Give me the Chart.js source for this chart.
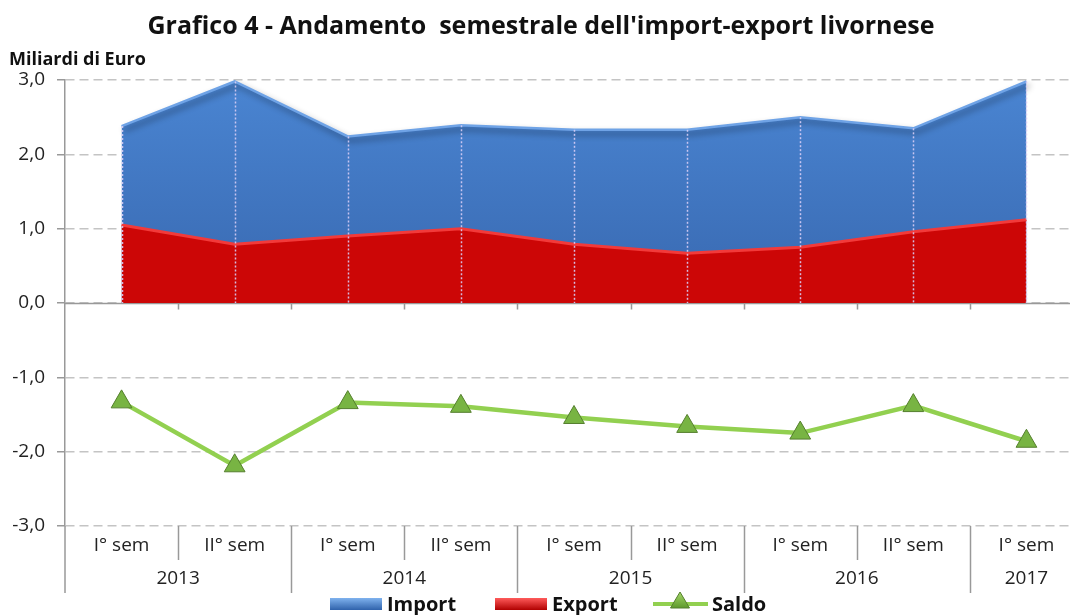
<!DOCTYPE html>
<html>
<head>
<meta charset="utf-8">
<script src="https://cdn.jsdelivr.net/npm/chart.js@4/dist/chart.umd.min.js"></script>
<style>
  body { margin: 0; background: #fff; overflow: hidden; }
  #wrap { position: absolute; left: 0; top: 0; width: 1090px; height: 615px; }
</style>
</head>
<body>
<div id="wrap"><canvas id="grafico" width="1090" height="615"></canvas></div>
<script>
// Dati (miliardi di euro)
const semestri = ['I° sem', 'II° sem', 'I° sem', 'II° sem', 'I° sem', 'II° sem', 'I° sem', 'II° sem', 'I° sem'];
const anni = ['2013', '2014', '2015', '2016', '2017'];
const semPerAnno = [2, 2, 2, 2, 1];
const importVal = [2.38, 2.98, 2.24, 2.39, 2.33, 2.33, 2.50, 2.35, 2.98];
const exportVal = [1.05, 0.79, 0.90, 1.00, 0.79, 0.67, 0.75, 0.96, 1.12];
const saldoVal = [-1.33, -2.19, -1.34, -1.39, -1.54, -1.66, -1.75, -1.38, -1.86];
const yTicks = [-3, -2, -1, 0, 1, 2, 3];

const FONT = '"Open Sans", Lato, sans-serif';

function fmt(v) {
    return v.toFixed(1).replace('.', ',');
}

// gradiente verticale tra due valori dell'asse y
function vGrad(chart, c1, c2) {
    const area = chart.chartArea;
    if (!area) return c1;
    const y = chart.scales.y;
    const g = chart.ctx.createLinearGradient(0, y.getPixelForValue(3), 0, y.getPixelForValue(0));
    g.addColorStop(0, c1);
    g.addColorStop(1, c2);
    return g;
}

function triangle(ctx, x, y, r) {
    ctx.beginPath();
    ctx.moveTo(x, y - r);
    ctx.lineTo(x + r * 0.95, y + r * 0.6);
    ctx.lineTo(x - r * 0.95, y + r * 0.6);
    ctx.closePath();
    const g = ctx.createLinearGradient(0, y - r, 0, y + r * 0.6);
    g.addColorStop(0, '#a6d86a');
    g.addColorStop(1, '#5e9a2c');
    ctx.fillStyle = g;
    ctx.fill();
    ctx.strokeStyle = '#557f2e';
    ctx.lineWidth = 1;
    ctx.stroke();
}

const decor = {
    id: 'decor',
    beforeDatasetsDraw(chart) {
        const ctx = chart.ctx;
        const y = chart.scales.y;
        const a = chart.chartArea;
        const y0 = Math.round(y.getPixelForValue(0)) + 0.5;
        const step = (a.right - a.left) / semestri.length;
        ctx.save();
        ctx.strokeStyle = '#999';
        ctx.lineWidth = 1.5;
        ctx.beginPath();
        ctx.moveTo(a.left, y0);
        ctx.lineTo(a.right, y0);
        for (let i = 1; i < semestri.length; i++) {
            const px = Math.round(a.left + i * step) + 0.5;
            ctx.moveTo(px, y0);
            ctx.lineTo(px, y0 + 6);
        }
        ctx.stroke();
        ctx.restore();
    },
    beforeDatasetDraw(chart, args) {
        chart.ctx.save();
        if (args.index === 0) {
            chart.ctx.shadowColor = 'rgba(0,0,0,0.45)';
            chart.ctx.shadowBlur = 6;
            chart.ctx.shadowOffsetX = 3;
            chart.ctx.shadowOffsetY = 4;
        }
    },
    afterDatasetDraw(chart) {
        chart.ctx.restore();
    },
    afterDatasetsDraw(chart) {
        // linee di proiezione tratteggiate dentro le aree
        const ctx = chart.ctx;
        const x = chart.scales.x, y = chart.scales.y;
        const y0 = y.getPixelForValue(0);
        ctx.save();
        ctx.strokeStyle = 'rgba(215,205,245,0.9)';
        ctx.lineWidth = 1.5;
        ctx.setLineDash([2, 2]);
        importVal.forEach((v, i) => {
            const px = Math.round(x.getPixelForValue(i)) + 0.5;
            ctx.beginPath();
            ctx.moveTo(px, y.getPixelForValue(v));
            ctx.lineTo(px, y0);
            ctx.stroke();
        });
        ctx.restore();
    },
    afterDraw(chart) {
        const ctx = chart.ctx;
        const a = chart.chartArea;
        const x = chart.scales.x;
        const step = (a.right - a.left) / semestri.length;
        ctx.save();

        // titolo
        ctx.fillStyle = '#111';
        ctx.textAlign = 'center';
        ctx.textBaseline = 'middle';
        ctx.font = 'bold 25px ' + FONT;
        ctx.fillText("Grafico 4 - Andamento  semestrale dell'import-export livornese", 541, 27);

        // unità di misura
        ctx.textAlign = 'left';
        ctx.font = 'bold 18px ' + FONT;
        ctx.fillText('Miliardi di Euro', 9, 60);

        // asse delle categorie su due livelli
        ctx.strokeStyle = '#999';
        ctx.lineWidth = 1.5;
        ctx.beginPath();
        ctx.moveTo(a.left, a.bottom);
        ctx.lineTo(a.left, 593);
        ctx.stroke();
        ctx.font = '19px ' + FONT;
        ctx.textAlign = 'center';
        ctx.fillStyle = '#222';
        semestri.forEach((s, i) => {
            ctx.fillText(s, x.getPixelForValue(i), 546);
        });
        let k = 0;
        anni.forEach((yr, j) => {
            const start = a.left + k * step;
            const end = a.left + (k + semPerAnno[j]) * step;
            for (let i = 1; i < semPerAnno[j]; i++) {
                const px = Math.round(start + i * step) + 0.5;
                ctx.beginPath();
                ctx.moveTo(px, a.bottom);
                ctx.lineTo(px, 560);
                ctx.stroke();
            }
            const ex = Math.round(end) + 0.5;
            ctx.beginPath();
            ctx.moveTo(ex, a.bottom);
            ctx.lineTo(ex, 593);
            ctx.stroke();
            ctx.fillText(yr, (start + end) / 2, 579);
            k += semPerAnno[j];
        });

        // legenda
        const ly = 604;
        ctx.font = 'bold 20px ' + FONT;
        ctx.textAlign = 'left';
        ctx.fillStyle = '#111';
        const boxes = [
            { x: 330, label: 'Import', c1: '#7fb2ee', c2: '#2f62ab' },
            { x: 495, label: 'Export', c1: '#ff5a5a', c2: '#b00000' }
        ];
        boxes.forEach(b => {
            const g = ctx.createLinearGradient(0, ly - 6, 0, ly + 6);
            g.addColorStop(0, b.c1);
            g.addColorStop(1, b.c2);
            ctx.fillStyle = g;
            ctx.fillRect(b.x, ly - 6, 52, 12);
            ctx.fillStyle = '#111';
            ctx.fillText(b.label, b.x + 57, ly + 1);
        });
        ctx.strokeStyle = '#92d050';
        ctx.lineWidth = 4;
        ctx.beginPath();
        ctx.moveTo(653, ly);
        ctx.lineTo(708, ly);
        ctx.stroke();
        triangle(ctx, 680, ly - 2, 10);
        ctx.fillStyle = '#111';
        ctx.fillText('Saldo', 712, ly + 1);
        ctx.restore();
    }
};

new Chart(document.getElementById('grafico'), {
    type: 'line',
    data: {
        labels: semestri,
        datasets: [
            {
                label: 'Import',
                data: importVal,
                order: 2,
                fill: 'origin',
                borderColor: '#6fa3e6',
                borderWidth: 2.5,
                backgroundColor: ctx => vGrad(ctx.chart, '#4a85d2', '#3868b0'),
                pointRadius: 0,
                tension: 0
            },
            {
                label: 'Export',
                data: exportVal,
                order: 1,
                fill: 'origin',
                borderColor: '#f23a3a',
                borderWidth: 3,
                backgroundColor: '#cc0606',
                pointRadius: 0,
                tension: 0
            },
            {
                label: 'Saldo',
                data: saldoVal,
                order: 0,
                fill: false,
                borderColor: '#92d050',
                borderWidth: 4.5,
                pointStyle: 'triangle',
                pointRadius: 12,
                pointHoverRadius: 12,
                pointBackgroundColor: '#78b443',
                pointBorderColor: '#557f2e',
                pointBorderWidth: 1,
                tension: 0
            }
        ]
    },
    options: {
        responsive: false,
        animation: false,
        layout: { autoPadding: false, padding: { left: 0, top: 80, right: 7, bottom: 89 } },
        plugins: {
            legend: { display: false },
            title: { display: false },
            tooltip: { enabled: false }
        },
        scales: {
            x: { type: 'category', display: false, offset: true },
            y: {
                min: -3,
                max: 3,
                afterFit: s => { s.width = 65; },
                afterBuildTicks: s => { s.ticks = yTicks.map(v => ({ value: v })); },
                ticks: {
                    callback: v => fmt(v),
                    color: '#222',
                    font: { family: FONT, size: 19 },
                    padding: 12
                },
                grid: {
                    color: '#c4c4c4',
                    lineWidth: 1.5,
                    tickColor: '#999',
                    tickLength: 8,
                    tickBorderDash: [0, 0]
                },
                border: { display: true, color: '#999', width: 1.5, dash: [9, 5] }
            }
        }
    },
    plugins: [decor]
});
</script>
</body>
</html>
